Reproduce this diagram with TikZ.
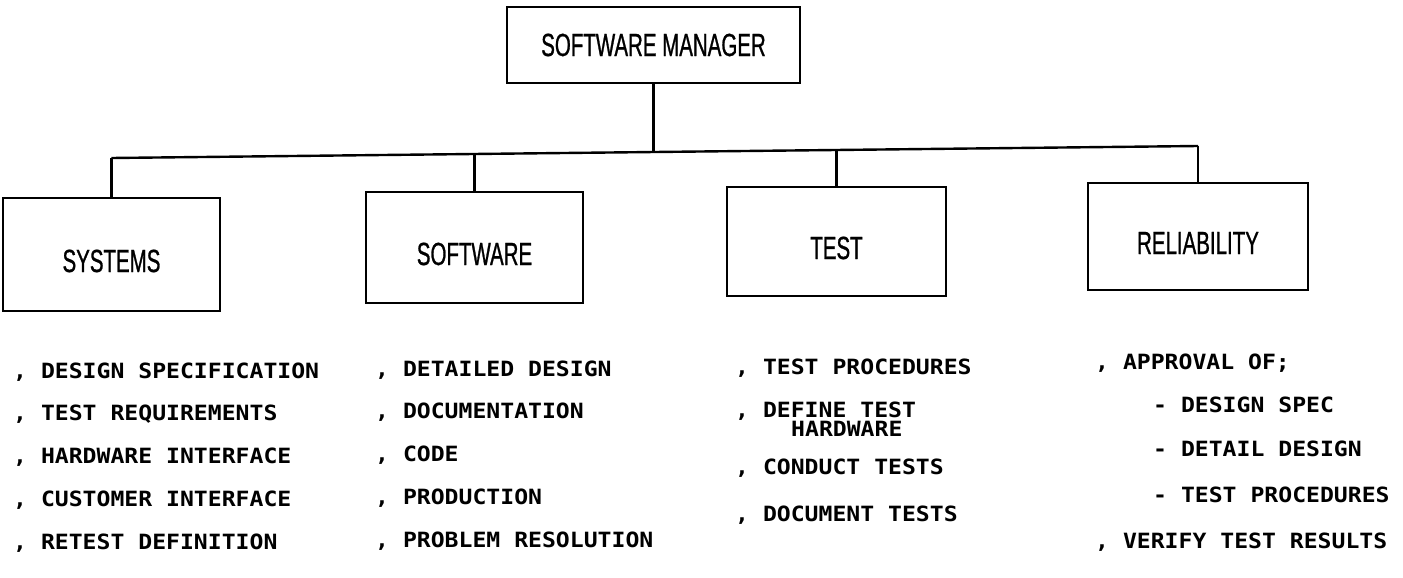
\documentclass[tikz,border=0pt]{standalone}
\usepackage{fontspec}
\newfontfamily\boxfont[FakeStretch=0.64,FakeBold=0.8]{Liberation Sans}
\newfontfamily\listfont[FakeStretch=1.1]{DejaVu Sans Mono Bold}
\begin{document}
\begin{tikzpicture}[x=1pt,y=-1pt,
  orgbox/.style={draw,line width=2.6pt,rectangle,inner sep=0pt,font=\boxfont\fontsize{32}{36}\selectfont},
  lowlabel/.style={text height=35pt,text depth=0pt},
  conn/.style={line width=2.4pt},
  item/.style={anchor=base west,inner sep=0pt,font=\listfont\fontsize{21}{24}\selectfont}]
\useasboundingbox (0,0) rectangle (1403,578);
\fill[white] (0,0) rectangle (1403,578);
% boxes
\node[orgbox,minimum width=293pt,minimum height=76pt] (mgr) at (653.5,45) {SOFTWARE MANAGER};
\node[orgbox,lowlabel,minimum width=217pt,minimum height=113pt] (sys) at (111.5,254.5) {SYSTEMS};
\node[orgbox,lowlabel,minimum width=217pt,minimum height=111pt] (sw) at (474.5,247.5) {SOFTWARE};
\node[orgbox,lowlabel,minimum width=219pt,minimum height=109pt] (tst) at (836.5,241.5) {TEST};
\node[orgbox,lowlabel,minimum width=220pt,minimum height=107pt] (rel) at (1198,236.5) {RELIABILITY};
% bus
\coordinate (b1) at (111.5,158);
\coordinate (b2) at (474.5,154);
\coordinate (bm) at (653.5,152);
\coordinate (b3) at (836.5,150);
\coordinate (b4) at (1198,146);
\draw[conn] (b1) -- (b4);
\draw[conn] (mgr.south) -- (bm);
\draw[conn] (b1) -- (sys.north);
\draw[conn] (b2) -- (sw.north);
\draw[conn] (b3) -- (tst.north);
\draw[conn] (b4) -- (rel.north);
% systems list
\node[item] (s1) at (13,378) {, DESIGN SPECIFICATION};
\node[item] (s2) at (13,420) {, TEST REQUIREMENTS};
\node[item] (s3) at (13,463) {, HARDWARE INTERFACE};
\node[item] (s4) at (13,506) {, CUSTOMER INTERFACE};
\node[item] (s5) at (13,549) {, RETEST DEFINITION};
% software list
\node[item] (w1) at (375,376) {, DETAILED DESIGN};
\node[item] (w2) at (375,418) {, DOCUMENTATION};
\node[item] (w3) at (375,461) {, CODE};
\node[item] (w4) at (375,504) {, PRODUCTION};
\node[item] (w5) at (375,547) {, PROBLEM RESOLUTION};
% test list
\node[item] (t1) at (735,374) {, TEST PROCEDURES};
\node[item] (t2) at (735,417) {, DEFINE TEST};
\node[item] (t2b) at (791,436) {HARDWARE};
\node[item] (t3) at (735,474) {, CONDUCT TESTS};
\node[item] (t4) at (735,521) {, DOCUMENT TESTS};
% reliability list
\node[item] (r1) at (1095,369) {, APPROVAL OF;};
\node[item] (r2) at (1153,412) {- DESIGN SPEC};
\node[item] (r3) at (1153,456) {- DETAIL DESIGN};
\node[item] (r4) at (1153,502) {- TEST PROCEDURES};
\node[item] (r5) at (1095,548) {, VERIFY TEST RESULTS};
\end{tikzpicture}
\end{document}
